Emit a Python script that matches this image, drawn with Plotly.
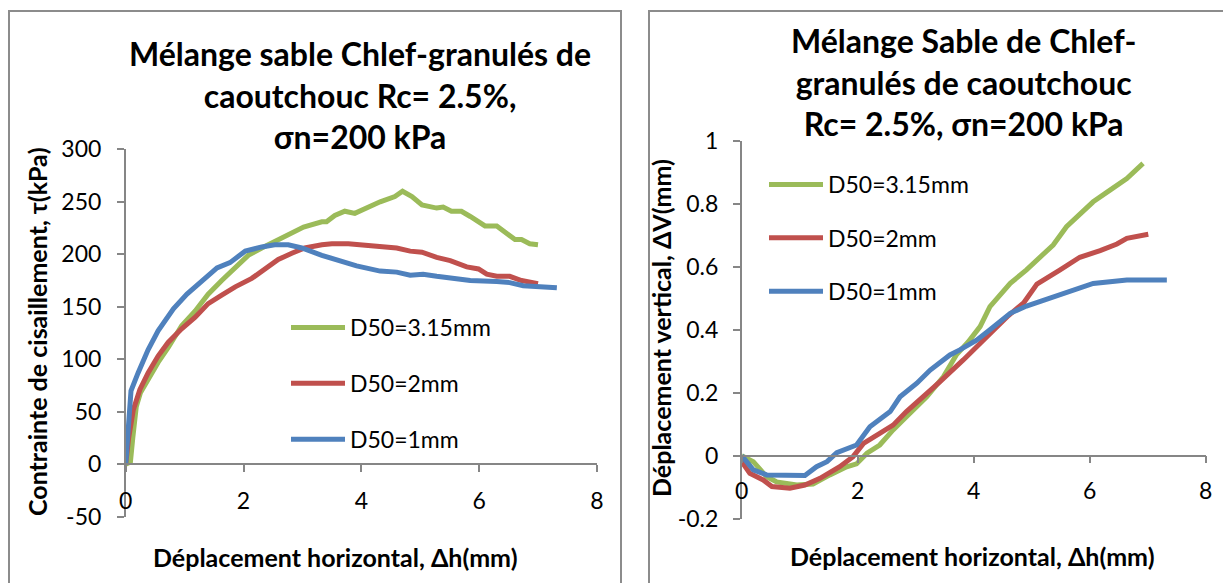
import plotly.graph_objects as go

# ---------------- data ----------------
series_names = ["D50=3.15mm", "D50=2mm", "D50=1mm"]
series_colors = ["#9BBB59", "#C0504D", "#4F81BD"]

# Left: shear stress tau (kPa) vs horizontal displacement (mm)
tau_x_g = [0, 0.08, 0.12, 0.18, 0.25, 0.38, 0.55, 0.72, 0.95, 1.18, 1.40, 1.63, 1.86, 2.08, 2.31, 2.53, 2.76,
           3.02, 3.33, 3.41, 3.55, 3.72, 3.89, 4.03, 4.32, 4.57, 4.70, 4.86, 5.03, 5.28, 5.39, 5.53, 5.70,
           5.85, 6.10, 6.30, 6.61, 6.72, 6.86, 7.0]
tau_y_g = [0, 2, 25, 55, 68, 81, 97, 111, 132, 146, 162, 175, 188, 199, 206, 212, 218,
           226, 231, 231, 237, 241, 239, 243, 250, 255, 260, 255, 247, 244, 245, 241, 241,
           236, 227, 227, 214, 214, 210, 209]

tau_x_r = [0, 0.05, 0.13, 0.24, 0.38, 0.55, 0.72, 0.95, 1.18, 1.40, 1.63, 1.86, 2.14, 2.37, 2.59, 2.82,
           3.04, 3.33, 3.50, 3.78, 4.03, 4.26, 4.6, 4.83, 5.03, 5.28, 5.51, 5.79, 5.99, 6.13, 6.30,
           6.52, 6.72, 7.0]
tau_y_r = [0, 25, 52, 71, 87, 103, 116, 129, 140, 153, 161, 169, 177, 186, 195, 201,
           206, 209, 210, 210, 209, 207, 206, 203, 202, 197, 194, 188, 186, 181, 179,
           179, 175, 172]

tau_x_b = [0, 0.04, 0.09, 0.21, 0.38, 0.55, 0.81, 1.04, 1.29, 1.55, 1.77, 2.03, 2.31, 2.53, 2.76, 2.99,
           3.33, 3.72, 3.92, 4.32, 4.6, 4.83, 5.05, 5.28, 5.62, 5.85, 6.3, 6.52, 6.75, 7.03, 7.32]
tau_y_b = [0, 40, 70, 87, 109, 127, 148, 162, 175, 187, 192, 203, 207, 209, 209, 206,
           199, 192, 189, 184, 183, 180, 181, 179, 177, 175, 174, 173, 170, 169, 168]

# Right: vertical displacement dV (mm) vs horizontal displacement (mm)
dv_x_g = [0, 0.2, 0.43, 0.6, 0.95, 1.23, 1.52, 1.81, 1.98, 2.16, 2.38, 2.61, 2.84, 3.19, 3.48, 3.70,
          3.90, 4.11, 4.28, 4.63, 4.91, 5.14, 5.37, 5.60, 5.83, 6.06, 6.35, 6.64, 6.92]
dv_y_g = [0, -0.019, -0.067, -0.083, -0.093, -0.09, -0.061, -0.035, -0.026, 0.008, 0.034, 0.082,
          0.124, 0.187, 0.251, 0.32, 0.36, 0.41, 0.473, 0.547, 0.59, 0.632, 0.669, 0.727, 0.764,
          0.806, 0.843, 0.88, 0.928]

dv_x_r = [0, 0.14, 0.37, 0.52, 0.83, 1.09, 1.35, 1.69, 1.92, 2.10, 2.38, 2.61, 2.84, 3.07, 3.42,
          3.82, 4.05, 4.34, 4.60, 4.86, 5.09, 5.49, 5.83, 6.18, 6.47, 6.64, 7.01]
dv_y_r = [-0.019, -0.056, -0.077, -0.098, -0.103, -0.093, -0.072, -0.035, -0.003, 0.039, 0.071,
          0.097, 0.14, 0.177, 0.235, 0.304, 0.345, 0.40, 0.445, 0.485, 0.545, 0.59, 0.63, 0.651,
          0.672, 0.69, 0.703]

dv_x_b = [0, 0.2, 0.43, 0.78, 1.09, 1.29, 1.47, 1.64, 1.98, 2.21, 2.56, 2.73, 3.02, 3.25, 3.59,
          3.76, 4.05, 4.28, 4.45, 4.63, 4.91, 5.49, 6.06, 6.64, 7.33]
dv_y_b = [0, -0.045, -0.061, -0.064, -0.063, -0.035, -0.019, 0.01, 0.034, 0.092, 0.14, 0.187,
          0.23, 0.272, 0.32, 0.336, 0.367, 0.40, 0.425, 0.452, 0.475, 0.51, 0.547, 0.558, 0.558]

# tick labels (hyphen minus as in the original)
x_tickvals = [0, 2, 4, 6, 8]
x_ticktext = ["0", "2", "4", "6", "8"]
left_tickvals = [-50, 0, 50, 100, 150, 200, 250, 300]
left_ticktext = ["-50", "0", "50", "100", "150", "200", "250", "300"]
right_tickvals = [-0.2, 0, 0.2, 0.4, 0.6, 0.8, 1]
right_ticktext = ["-0.2", "0", "0.2", "0.4", "0.6", "0.8", "1"]

left_title = "Mélange sable Chlef-granulés de<br>caoutchouc Rc= 2.5%,<br>σn=200 kPa"
right_title = "Mélange Sable de Chlef-<br>granulés de caoutchouc<br>Rc= 2.5%, σn=200 kPa"
x_label = "Déplacement horizontal, Δh(mm)"
left_y_label = "Contrainte de cisaillement, τ(kPa)"
right_y_label = "Déplacement vertical, ΔV(mm)"

left_y_range = [-50, 300]
right_y_range = [-0.2, 1]
x_range = [0, 8]

# ---------------- layout helpers ----------------
W, H = 1223, 583
FONT = "Lato"
AXC = "#868686"


def px_x(p):
    return p / W


def px_y(p):
    return 1 - p / H


fig = go.Figure()

left_x = [tau_x_g, tau_x_r, tau_x_b]
left_y = [tau_y_g, tau_y_r, tau_y_b]
right_x = [dv_x_g, dv_x_r, dv_x_b]
right_y = [dv_y_g, dv_y_r, dv_y_b]

for i in range(3):
    fig.add_trace(go.Scatter(x=left_x[i], y=left_y[i], mode="lines", name=series_names[i],
                             line=dict(color=series_colors[i], width=5),
                             legendgroup="L%d" % i, legend="legend",
                             xaxis="x", yaxis="y"))
for i in range(3):
    fig.add_trace(go.Scatter(x=right_x[i], y=right_y[i], mode="lines", name=series_names[i],
                             line=dict(color=series_colors[i], width=5),
                             legendgroup="R%d" % i, legend="legend2",
                             xaxis="x2", yaxis="y2"))

# domains
L_dom_x = [px_x(125.7), px_x(125.7 + 8 * 58.9)]
L_dom_y = [px_y(516.7), px_y(149.3)]
R_dom_x = [px_x(741.7), px_x(741.7 + 8 * 58.0)]
R_dom_y = [px_y(455.7 + 0.2 * 315), px_y(455.7 - 1.0 * 315)]


def zero_pos(dom, rng):
    return dom[0] + (0 - rng[0]) / (rng[1] - rng[0]) * (dom[1] - dom[0])


tickfont = dict(family=FONT, size=23, color="black")
common_axis = dict(showgrid=False, zeroline=False, showline=True, linecolor=AXC, linewidth=1.5,
                   ticks="outside", ticklen=7, tickcolor=AXC, tickwidth=1.5, tickfont=tickfont)

fig.update_layout(
    width=W, height=H,
    margin=dict(l=0, r=0, t=0, b=0, autoexpand=False),
    paper_bgcolor="white", plot_bgcolor="rgba(0,0,0,0)",
    xaxis=dict(domain=L_dom_x, range=x_range, tickvals=x_tickvals, ticktext=x_ticktext,
               anchor="free", position=zero_pos(L_dom_y, left_y_range),
               ticklabelstandoff=9, **common_axis),
    yaxis=dict(domain=L_dom_y, range=left_y_range, tickvals=left_tickvals, ticktext=left_ticktext,
               anchor="x", ticklabelstandoff=11, **common_axis),
    xaxis2=dict(domain=R_dom_x, range=x_range, tickvals=x_tickvals, ticktext=x_ticktext,
                anchor="free", position=zero_pos(R_dom_y, right_y_range),
                ticklabelstandoff=8, **common_axis),
    yaxis2=dict(domain=R_dom_y, range=right_y_range, tickvals=right_tickvals, ticktext=right_ticktext,
                anchor="x2", ticklabelstandoff=10, **common_axis),
    legend=dict(x=px_x(286), y=px_y(306), xanchor="left", yanchor="top",
                bgcolor="rgba(0,0,0,0)", font=dict(family=FONT, size=23, color="black"),
                tracegroupgap=23, itemwidth=54),
    legend2=dict(x=px_x(764), y=px_y(163), xanchor="left", yanchor="top",
                 bgcolor="rgba(0,0,0,0)", font=dict(family=FONT, size=23, color="black"),
                 tracegroupgap=20.5, itemwidth=54),
    showlegend=True,
)

# frames
for x0, x1 in [(9, 621), (649, 1240)]:
    fig.add_shape(type="rect", xref="paper", yref="paper",
                  x0=px_x(x0), x1=px_x(x1), y0=px_y(600), y1=px_y(11),
                  line=dict(color="#8c8c8c", width=2), fillcolor="rgba(0,0,0,0)", layer="below")

titlefont = dict(family=FONT, size=32, color="black", weight="bold")
labfont = dict(family=FONT, size=25, color="black", weight="bold")

fig.add_annotation(text=left_title, xref="paper", yref="paper", x=px_x(360), y=px_y(95),
                   xanchor="center", yanchor="middle", showarrow=False, font=titlefont,
                   align="center")
fig.add_annotation(text=right_title, xref="paper", yref="paper", x=px_x(963), y=px_y(82),
                   xanchor="center", yanchor="middle", showarrow=False, font=titlefont,
                   align="center")
fig.add_annotation(text=x_label, xref="paper", yref="paper", x=px_x(335), y=px_y(557),
                   xanchor="center", yanchor="middle", showarrow=False, font=labfont)
fig.add_annotation(text=x_label, xref="paper", yref="paper", x=px_x(972), y=px_y(556),
                   xanchor="center", yanchor="middle", showarrow=False, font=labfont)
fig.add_annotation(text=left_y_label, xref="paper", yref="paper", x=px_x(37), y=px_y(332),
                   xanchor="center", yanchor="middle", showarrow=False, font=labfont, textangle=-90)
fig.add_annotation(text=right_y_label, xref="paper", yref="paper", x=px_x(661), y=px_y(328),
                   xanchor="center", yanchor="middle", showarrow=False, font=labfont, textangle=-90)

fig.write_html("out.html")
